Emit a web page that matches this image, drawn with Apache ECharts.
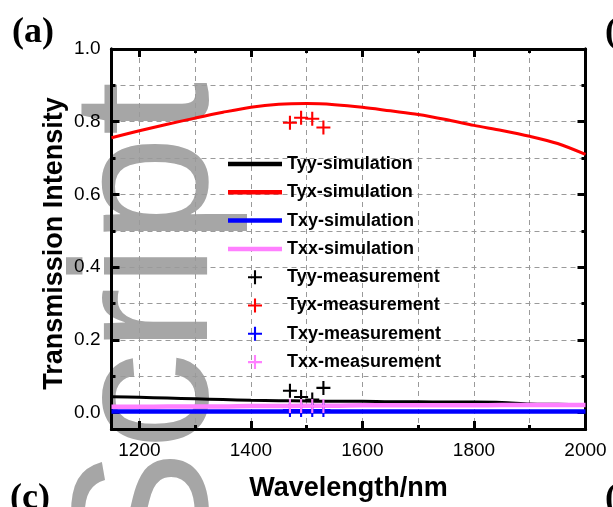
<!DOCTYPE html>
<html><head><meta charset="utf-8">
<script src="https://cdn.jsdelivr.net/npm/echarts@6/dist/echarts.min.js"></script>
<style>html,body{margin:0;padding:0;background:#fff}#c{width:613px;height:507px}</style>
</head><body><div id="c"></div>
<script>
// ---- data ----
const simWavelength = [1150,1200,1250,1300,1350,1400,1450,1500,1550,1600,1650,1700,1750,1800,1850,1900,1950,2000];
const tyySim = [0.044,0.042,0.040,0.038,0.036,0.034,0.033,0.032,0.031,0.031,0.030,0.030,0.029,0.029,0.028,0.024,0.023,0.022];
const tyxSim = [0.756,0.775,0.793,0.810,0.826,0.840,0.848,0.850,0.847,0.840,0.830,0.820,0.806,0.790,0.776,0.760,0.740,0.710];
const txySim = [0.003,0.003,0.003,0.003,0.003,0.003,0.003,0.003,0.003,0.003,0.003,0.003,0.003,0.003,0.003,0.003,0.003,0.003];
const txxSim = [0.016,0.016,0.017,0.017,0.017,0.018,0.018,0.019,0.019,0.020,0.020,0.020,0.020,0.020,0.021,0.021,0.021,0.021];
const measWavelength = [1470,1490,1510,1530];
const tyyMeas = [0.060,0.043,0.036,0.068];
const tyxMeas = [0.797,0.811,0.808,0.784];
const txyMeas = [0.007,0.007,0.007,0.007];
const txxMeas = [0.018,0.018,0.018,0.018];
const xLabelValues = [1200,1400,1600,1800,2000];
const xMinorValues = [1200,1300,1400,1500,1600,1700,1800,1900];
const yLabelValues = [0,0.2,0.4,0.6,0.8,1.0];
const yMinorValues = [0,0.1,0.2,0.3,0.4,0.5,0.6,0.7,0.8,0.9];
const seriesNames = ['Tyy-simulation','Tyx-simulation','Txy-simulation','Txx-simulation','Tyy-measurement','Tyx-measurement','Txy-measurement','Txx-measurement'];

const X_MIN = 1150, X_MAX = 2000, Y_MIN = -0.045, Y_MAX = 1.0;
const colors = ['#000000','#ff0000','#0000ff','#ff80ff'];
const plus = 'path://M8.5,0h3v8.5h8.5v3h-8.5v8.5h-3v-8.5h-8.5v-3h8.5z';
const bar = 'path://M0,0H54V4.5H0Z';
const LABEL_FONT = 'Liberation Sans';

function pairs(xs, ys){ return xs.map((x,i)=>[x, ys[i]]); }

function xAxisDef(pos, major){
  return {
    type:'value', position:pos, min:X_MIN, max:X_MAX,
    axisLine:{show:true, onZero:false, lineStyle:{color:'#000', width:3}},
    axisTick:{show:true, inside:true, length: major?8:4, lineStyle:{color:'#000', width:3},
      customValues: major ? xLabelValues : xMinorValues},
    axisLabel:{show: pos==='bottom' && major, customValues: xLabelValues, margin:12,
      color:'#000', fontSize:19, fontFamily:LABEL_FONT, formatter:v=>String(Math.round(v))},
    splitLine:{show: pos==='bottom' && !major, lineStyle:{color:'#9a9a9a', width:1, type:[5,4]}},
    name: (pos==='bottom' && major) ? 'Wavelength/nm' : '',
    nameLocation:'middle', nameGap:46, nameMoveOverlap:false,
    nameTextStyle:{color:'#000', fontSize:27, fontWeight:'bold', fontFamily:LABEL_FONT}
  };
}
function yAxisDef(pos, major){
  return {
    type:'value', position:pos, min:Y_MIN, max:Y_MAX,
    axisLine:{show:true, onZero:false, lineStyle:{color:'#000', width:3}},
    axisTick:{show:true, inside:true, length: major?8:4, lineStyle:{color:'#000', width:3},
      customValues: major ? yLabelValues : yMinorValues},
    axisLabel:{show: pos==='left' && major, customValues: yLabelValues, margin:11,
      color:'#000', fontSize:19, fontFamily:LABEL_FONT, formatter:v=>v.toFixed(1)},
    splitLine:{show: pos==='left' && !major, lineStyle:{color:'#9a9a9a', width:1, type:[5,4]}},
    name: (pos==='left' && major) ? 'Transmission Intensity' : '',
    nameLocation:'middle', nameGap:43, nameMoveOverlap:false,
    nameTextStyle:{color:'#000', fontSize:27, fontWeight:'bold', fontFamily:LABEL_FONT, padding:[0,9,0,0]}
  };
}

const simData = [tyySim, tyxSim, txySim, txxSim];
const measData = [tyyMeas, tyxMeas, txyMeas, txxMeas];
const simWidths = [3,3,4.5,4.5];
const series = [];
simData.forEach((d,i)=>{
  series.push({name:seriesNames[i], type:'line', data:pairs(simWavelength,d), smooth:0.3,
    symbol:'none', showSymbol:false, color:colors[i], lineStyle:{color:colors[i], width:simWidths[i]}, z:2+i});
});
measData.forEach((d,i)=>{
  series.push({name:seriesNames[4+i], type:'scatter', data:pairs(measWavelength,d),
    symbol:plus, symbolSize:14, color:colors[i], itemStyle:{color:colors[i], opacity:1}, z:10});
});

const legendData = seriesNames.map((n,i)=> i<4 ? {name:n, icon:bar, itemStyle:{color:colors[i]}} : {name:n});

const chart = echarts.init(document.getElementById('c'), null, {renderer:'canvas'});
chart.setOption({
  animation:false,
  backgroundColor:'#fff',
  grid:{left:111.5, right:27.5, top:49, bottom:75, containLabel:false},
  xAxis:[xAxisDef('bottom',false), xAxisDef('bottom',true), xAxisDef('top',false), xAxisDef('top',true)],
  yAxis:[yAxisDef('left',false), yAxisDef('left',true), yAxisDef('right',false), yAxisDef('right',true)],
  legend:{orient:'vertical', left:228, top:155, padding:0, itemWidth:54, itemHeight:14, itemGap:10.3,
    data:legendData, lineStyle:{width:4.5}, itemStyle:{opacity:1},
    textStyle:{color:'#000', fontSize:18, fontWeight:'bold', fontFamily:LABEL_FONT}},
  graphic:[
    {type:'text', z:-10, x:153, y:580, rotation:Math.PI/2, silent:true,
      style:{text:'Script', font:'195px "Liberation Sans"', fill:'#a6a6a6', align:'left', verticalAlign:'middle'}},
    {type:'text', left:12, top:15, style:{text:'(a)', font:'bold 36px "Liberation Serif"', fill:'#000'}},
    {type:'text', left:10, top:481, style:{text:'(c)', font:'bold 36px "Liberation Serif"', fill:'#000'}},
    {type:'text', x:605, y:15, style:{text:'(', font:'bold 36px "Liberation Serif"', fill:'#000'}},
    {type:'text', x:605, y:481, style:{text:'(', font:'bold 36px "Liberation Serif"', fill:'#000'}}
  ],
  series: series
});
</script></body></html>
